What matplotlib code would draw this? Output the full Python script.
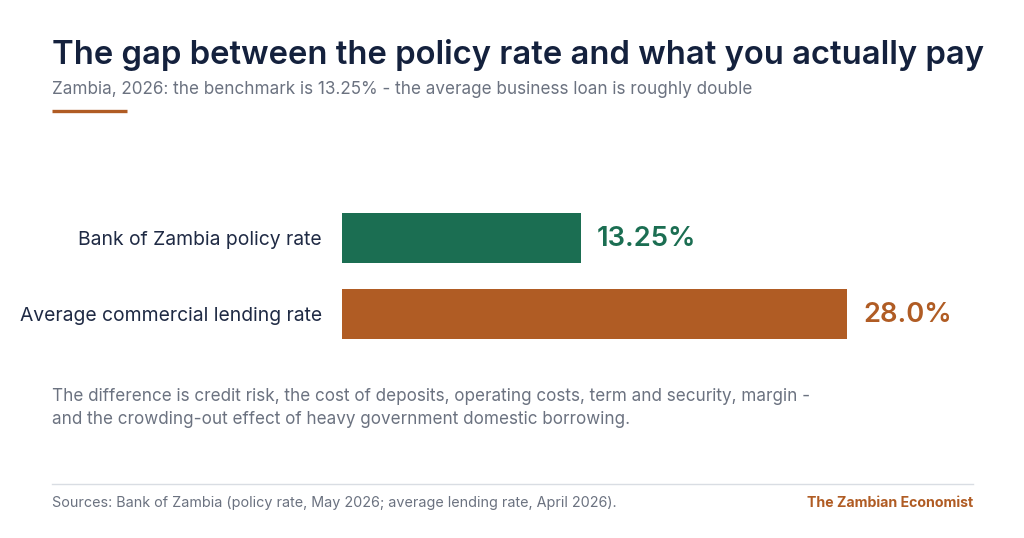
import matplotlib.pyplot as plt
from matplotlib.lines import Line2D

plt.rcParams['font.family'] = ['Inter', 'DejaVu Sans']

categories = ['Bank of Zambia policy rate', 'Average commercial lending rate']
rates = [13.25, 28.0]
value_labels = ['13.25%', '28.0%']
bar_colors = ['#1b6e52', '#b05c24']

title = 'The gap between the policy rate and what you actually pay'
subtitle = 'Zambia, 2026: the benchmark is 13.25% - the average business loan is roughly double'
note = ('The difference is credit risk, the cost of deposits, operating costs, term and security, margin -\n'
        'and the crowding-out effect of heavy government domestic borrowing.')
source = 'Sources: Bank of Zambia (policy rate, May 2026; average lending rate, April 2026).'
brand = 'The Zambian Economist'

W, H = 1024, 538
fig = plt.figure(figsize=(W / 100, H / 100), dpi=100)
fig.patch.set_facecolor('white')

# axes placed in pixel coords: left 342, top 200, bottom 352
xmax = 36
px_per_unit = 18.04
ax = fig.add_axes([342 / W, 1 - 352 / H, xmax * px_per_unit / W, 152 / H])
ypos = list(range(len(categories)))
ax.barh(ypos, rates, height=0.658, color=bar_colors)
ax.set_xlim(0, xmax)
ax.set_ylim(1.5, -0.5)
ax.axis('off')

for y, v, lab, c in zip(ypos, rates, value_labels, bar_colors):
    ax.annotate(lab, (v, y), xytext=(16, -1), textcoords='offset pixels',
                ha='left', va='center', fontsize=19.7, fontweight='semibold', color=c)
for y, cat in zip(ypos, categories):
    ax.annotate(cat, (0, y), xytext=(-20, -2), textcoords='offset pixels',
                ha='right', va='center', fontsize=13.9, color='#1f2a44')

# header
fig.text(52 / W, 1 - 55 / H, title, fontsize=23.6, fontweight='semibold', color='#14213d',
         ha='left', va='center')
fig.text(52 / W, 1 - 89 / H, subtitle, fontsize=12.3, color='#6b7280', ha='left', va='center')
fig.add_artist(Line2D([52 / W, 127 / W], [1 - 111 / H, 1 - 111 / H], color='#b05c24',
                      linewidth=2.4, solid_capstyle='butt'))

# note
fig.text(52 / W, 1 - 408 / H, note, fontsize=12.3, color='#6b7280', ha='left', va='center',
         linespacing=1.5)

# footer
fig.add_artist(Line2D([52 / W, 973 / W], [1 - 484 / H, 1 - 484 / H], color='#d9dde3',
                      linewidth=1))
fig.text(52 / W, 1 - 503 / H, source, fontsize=10.35, color='#6b7280', ha='left', va='center')
fig.text(973 / W, 1 - 503 / H, brand, fontsize=10.2, fontweight='bold', color='#b05c24',
         ha='right', va='center')

fig.savefig('out.png', dpi=100, facecolor='white')
